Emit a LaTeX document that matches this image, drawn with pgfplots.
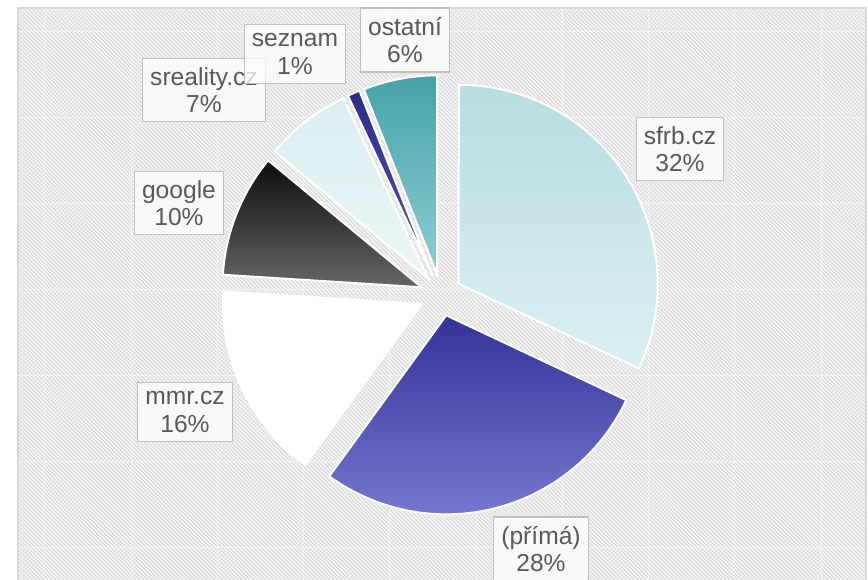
\documentclass[border=0pt]{standalone}
\usepackage{fontspec}
\setmainfont{Liberation Sans}
\usepackage{pgfplots}
\usepackage{pgfplotstable}
\pgfplotsset{compat=1.18}
\usetikzlibrary{patterns.meta}

\definecolor{sfrbT}{HTML}{B8DDE1}
\definecolor{sfrbB}{HTML}{DAEFF1}
\definecolor{primT}{HTML}{333399}
\definecolor{primB}{HTML}{7676D0}
\definecolor{googT}{HTML}{0D0D0D}
\definecolor{googB}{HTML}{676767}
\definecolor{sreaT}{HTML}{DAEEF0}
\definecolor{sreaB}{HTML}{EBF6F7}
\definecolor{seznT}{HTML}{2B2B8C}
\definecolor{seznB}{HTML}{5555B5}
\definecolor{ostaT}{HTML}{45A2A9}
\definecolor{ostaB}{HTML}{90CDD2}

% shares in percent, clockwise from 12 o'clock
\pgfplotstableread{
share
32
28
16
10
7
1
6
}\piedata
\pgfplotstablecreatecol[create col/expr accum={\thisrow{share}+\pgfmathaccuma}{0}]{cum}\piedata

\def\pcx{441}\def\pcy{284}\def\pR{199}\def\pd{21}
\newcommand\pieslice[3]{%
  \pgfplotstablegetelem{#1}{share}\of\piedata \let\pv\pgfplotsretval
  \pgfplotstablegetelem{#1}{cum}\of\piedata \let\pc\pgfplotsretval
  \pgfmathsetmacro\aend{90-3.6*\pc}%
  \pgfmathsetmacro\astart{90-3.6*(\pc-\pv)}%
  \pgfmathsetmacro\amid{(\astart+\aend)/2}%
  \pgfmathsetmacro\ox{\pcx+\pd*cos(\amid)}%
  \pgfmathsetmacro\oy{\pcy+\pd*sin(\amid)}%
  \edef\doslice{\noexpand\addplot[draw=white, line width=1pt, top color=#2, bottom color=#3, domain=\aend:\astart, samples=90] ({\ox+\pR*cos(x)}, {\oy+\pR*sin(x)}) -- (axis cs:\ox,\oy) -- cycle;}%
  \doslice
}

\tikzset{lbl/.style={draw=black!25, line width=0.65pt, fill=white, fill opacity=0.75, text opacity=1, text=black!65, align=center, inner xsep=3.8pt, inner ysep=4.6pt, font=\fontsize{12.3}{13.6}\selectfont}}

\begin{document}
\begin{tikzpicture}
\begin{axis}[
  x=0.5pt, y=0.5pt,
  xmin=18, xmax=866, ymin=-3, ymax=571,
  axis line style={draw=black!15, line width=0.8pt},
  axis background/.style={fill=black!4, postaction={pattern={Lines[angle=-45,distance=1.4pt,line width=0.6pt]}, pattern color=black!14}},
  xtick={44,131,217,303,389,476,562,648,734,821},
  ytick={32,118,204,290,376,462,548},
  xticklabels={}, yticklabels={},
  major tick length=0pt,
  grid=major,
  major grid style={white, line width=0.4pt, opacity=0.45},
  clip=false,
]
\pieslice{0}{sfrbT}{sfrbB}
\pieslice{1}{primT}{primB}
\pieslice{2}{white}{white}
\pieslice{3}{googT}{googB}
\pieslice{4}{sreaT}{sreaB}
\pieslice{5}{seznT}{seznB}
\pieslice{6}{ostaT}{ostaB}

\node[lbl] at (axis cs:680,430) {sfrb.cz\\32\%};
\node[lbl] at (axis cs:541,30) {(přímá)\\28\%};
\node[lbl] at (axis cs:185,167) {mmr.cz\\16\%};
\node[lbl] at (axis cs:179,376) {google\\10\%};
\node[lbl] at (axis cs:204,489) {sreality.cz\\7\%};
\node[lbl] at (axis cs:295,525) {seznam\\1\%};
\node[lbl] at (axis cs:405,539) {ostatní\\6\%};

\coordinate (BL) at (axis cs:0,0);
\coordinate (TR) at (axis cs:868,579);
\end{axis}
\pgfresetboundingbox
\useasboundingbox (BL) rectangle (TR);
\end{tikzpicture}
\end{document}
